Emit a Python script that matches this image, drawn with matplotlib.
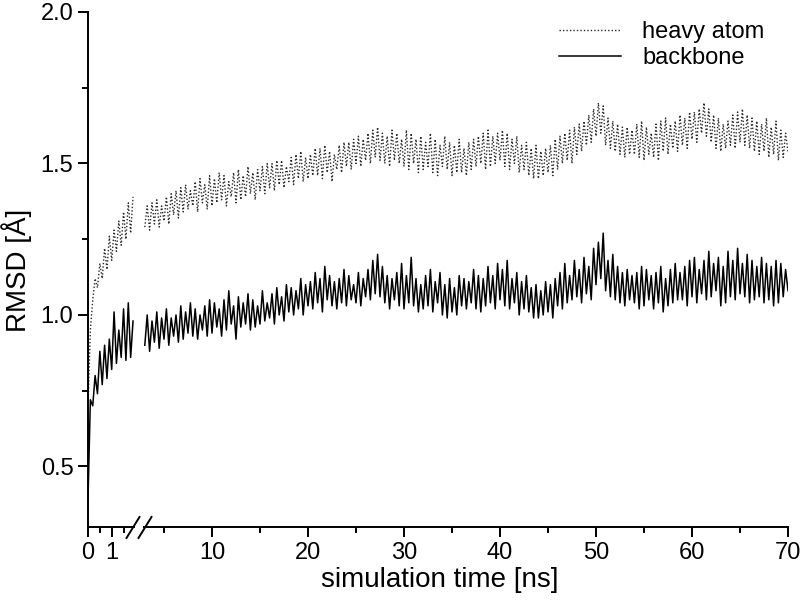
import numpy as np
import matplotlib
matplotlib.use('Agg')
import matplotlib.pyplot as plt
from matplotlib.ticker import MultipleLocator, FixedLocator

plt.rcParams['font.family'] = ['Liberation Sans', 'DejaVu Sans']

# early part of the run (0 - 1.9 ns, every 0.1 ns)
t_early = [0.0, 0.1, 0.2, 0.3, 0.4, 0.5, 0.6, 0.7, 0.8, 0.9,
           1.0, 1.1, 1.2, 1.3, 1.4, 1.5, 1.6, 1.7, 1.8, 1.9]
heavy_early = [0.70, 0.95, 1.05, 1.12, 1.09, 1.17, 1.12, 1.22, 1.15, 1.26,
               1.18, 1.28, 1.21, 1.31, 1.23, 1.34, 1.25, 1.37, 1.27, 1.39]
backbone_early = [0.39, 0.72, 0.70, 0.80, 0.74, 0.88, 0.77, 0.90, 0.79, 0.92,
                  0.82, 1.01, 0.84, 0.95, 0.86, 1.02, 0.85, 1.04, 0.86, 0.98]

# rest of the run (3 - 70 ns, every 0.25 ns), one row per ns
heavy_late = [
    1.29, 1.36, 1.28, 1.37,  1.30, 1.38, 1.29, 1.36,  1.31, 1.39, 1.30, 1.40,
    1.33, 1.41, 1.32, 1.42,  1.34, 1.43, 1.35, 1.41,  1.36, 1.44, 1.34, 1.45,
    1.37, 1.43, 1.35, 1.46,  1.36, 1.45, 1.37, 1.47,  1.38, 1.46, 1.36, 1.44,
    1.39, 1.47, 1.37, 1.48,  1.38, 1.46, 1.39, 1.49,  1.40, 1.47, 1.38, 1.48,
    1.41, 1.49, 1.40, 1.50,  1.42, 1.50, 1.41, 1.51,  1.43, 1.51, 1.42, 1.49,
    1.44, 1.52, 1.43, 1.53,  1.45, 1.54, 1.44, 1.52,  1.45, 1.53, 1.46, 1.55,
    1.46, 1.55, 1.45, 1.56,  1.47, 1.54, 1.44, 1.53,  1.48, 1.56, 1.47, 1.57,
    1.49, 1.57, 1.48, 1.58,  1.50, 1.59, 1.49, 1.58,  1.51, 1.60, 1.50, 1.61,
    1.52, 1.62, 1.51, 1.60,  1.50, 1.59, 1.49, 1.61,  1.51, 1.60, 1.50, 1.58,
    1.49, 1.61, 1.48, 1.60,  1.50, 1.58, 1.47, 1.59,  1.48, 1.57, 1.49, 1.60,
    1.47, 1.58, 1.46, 1.56,  1.49, 1.59, 1.48, 1.57,  1.46, 1.56, 1.47, 1.58,
    1.47, 1.55, 1.46, 1.57,  1.48, 1.58, 1.49, 1.59,  1.50, 1.60, 1.48, 1.61,
    1.49, 1.59, 1.50, 1.60,  1.51, 1.61, 1.49, 1.60,  1.48, 1.58, 1.50, 1.59,
    1.47, 1.56, 1.48, 1.57,  1.46, 1.55, 1.45, 1.56,  1.45, 1.54, 1.46, 1.55,
    1.47, 1.56, 1.46, 1.58,  1.48, 1.59, 1.50, 1.60,  1.51, 1.61, 1.50, 1.62,
    1.53, 1.63, 1.54, 1.64,  1.56, 1.66, 1.57, 1.68,  1.59, 1.70, 1.60, 1.69,
    1.56, 1.65, 1.55, 1.64,  1.54, 1.63, 1.53, 1.62,  1.52, 1.62, 1.53, 1.61,
    1.53, 1.63, 1.52, 1.64,  1.51, 1.62, 1.53, 1.60,  1.52, 1.63, 1.51, 1.64,
    1.54, 1.65, 1.53, 1.63,  1.55, 1.64, 1.54, 1.66,  1.56, 1.65, 1.55, 1.67,
    1.58, 1.67, 1.57, 1.68,  1.60, 1.70, 1.59, 1.68,  1.57, 1.66, 1.55, 1.65,
    1.54, 1.63, 1.55, 1.64,  1.56, 1.66, 1.55, 1.67,  1.57, 1.68, 1.56, 1.66,
    1.55, 1.65, 1.54, 1.64,  1.53, 1.63, 1.54, 1.65,  1.52, 1.62, 1.53, 1.64,
    1.51, 1.61, 1.52, 1.60,  1.54]
backbone_late = [
    0.90, 1.00, 0.88, 0.98,  0.91, 1.01, 0.89, 0.99,  0.92, 1.02, 0.90, 0.99,
    0.93, 1.00, 0.91, 1.03,  0.92, 1.01, 0.94, 1.04,  0.93, 1.02, 0.92, 1.00,
    0.95, 1.03, 0.93, 1.05,  0.94, 1.04, 0.96, 1.02,  0.93, 1.05, 0.95, 1.08,
    0.97, 1.03, 0.92, 1.06,  0.96, 1.04, 0.97, 1.07,  0.95, 1.05, 0.96, 1.03,
    0.97, 1.08, 0.98, 1.04,  0.99, 1.07, 0.97, 1.09,  1.00, 1.06, 0.98, 1.10,
    1.01, 1.09, 1.00, 1.08,  1.02, 1.12, 1.00, 1.10,  1.03, 1.11, 1.02, 1.14,
    1.04, 1.12, 1.01, 1.16,  1.05, 1.13, 1.03, 1.11,  1.02, 1.12, 1.04, 1.15,
    1.03, 1.13, 1.05, 1.10,  1.04, 1.14, 1.03, 1.12,  1.06, 1.15, 1.05, 1.18,
    1.07, 1.20, 1.06, 1.16,  1.04, 1.13, 1.02, 1.12,  1.05, 1.14, 1.03, 1.17,
    1.02, 1.13, 1.04, 1.19,  1.03, 1.12, 1.01, 1.10,  1.02, 1.13, 1.03, 1.15,
    1.01, 1.11, 1.04, 1.14,  1.00, 1.10, 0.99, 1.12,  1.01, 1.09, 1.00, 1.13,
    1.03, 1.12, 1.02, 1.11,  1.04, 1.15, 1.02, 1.13,  1.01, 1.12, 1.03, 1.16,
    1.04, 1.13, 1.02, 1.17,  1.05, 1.15, 1.03, 1.18,  1.02, 1.12, 1.04, 1.14,
    1.00, 1.11, 1.02, 1.13,  1.01, 1.09, 0.99, 1.10,  0.99, 1.08, 1.00, 1.11,
    1.01, 1.10, 0.99, 1.12,  1.03, 1.14, 1.02, 1.17,  1.04, 1.13, 1.05, 1.18,
    1.06, 1.15, 1.04, 1.19,  1.07, 1.16, 1.05, 1.22,  1.10, 1.24, 1.12, 1.27,
    1.08, 1.18, 1.06, 1.20,  1.05, 1.16, 1.04, 1.14,  1.03, 1.15, 1.05, 1.13,
    1.04, 1.14, 1.02, 1.16,  1.03, 1.15, 1.05, 1.13,  1.02, 1.14, 1.04, 1.16,
    1.01, 1.12, 1.03, 1.15,  1.04, 1.17, 1.05, 1.14,  1.05, 1.16, 1.03, 1.18,
    1.06, 1.19, 1.04, 1.15,  1.07, 1.18, 1.05, 1.21,  1.06, 1.17, 1.08, 1.19,
    1.03, 1.16, 1.04, 1.21,  1.06, 1.18, 1.05, 1.22,  1.07, 1.17, 1.06, 1.20,
    1.04, 1.18, 1.05, 1.16,  1.06, 1.19, 1.04, 1.17,  1.05, 1.16, 1.03, 1.18,
    1.04, 1.17, 1.06, 1.15,  1.08]
t_late = 3.0 + 0.25 * np.arange(len(heavy_late))

fs = 17
lw_axis = 1.4

fig = plt.figure(figsize=(8, 6.14), dpi=100)
bottom = 87 / 614
height = 515 / 614
ax0 = fig.add_axes([88 / 800, bottom, 46 / 800, height])
ax1 = fig.add_axes([144 / 800, bottom, 644 / 800, height])

dotted = dict(color='#2a2a2a', lw=1.0, linestyle=(0, (1, 1.5)))
solid = dict(color='black', lw=1.1)

ax0.plot(t_early, heavy_early, **dotted)
ax0.plot(t_early, backbone_early, **solid)
ax1.plot(t_late, heavy_late, label='heavy atom', **dotted)
ax1.plot(t_late, backbone_late, label='backbone', **solid)

for ax in (ax0, ax1):
    ax.set_ylim(0.3, 2.0)
    ax.spines['top'].set_visible(False)
    ax.spines['right'].set_visible(False)
    for sp in ax.spines.values():
        sp.set_linewidth(lw_axis)
    ax.tick_params(which='major', direction='out', length=7, width=lw_axis,
                   labelsize=fs)
    ax.tick_params(which='minor', direction='out', length=4, width=lw_axis)

ax0.set_xlim(0, 46 / 23.7)
ax0.xaxis.set_major_locator(FixedLocator([0, 1]))
ax0.xaxis.set_minor_locator(FixedLocator([0.5, 1.5]))
ax0.yaxis.set_minor_locator(MultipleLocator(0.25))
ax0.set_yticks([0.5, 1.0, 1.5, 2.0])
ax0.set_yticklabels(['0.5', '1.0', '1.5', '2.0'])

ax1.set_xlim(10 - 68 / 9.6, 70)
ax1.xaxis.set_major_locator(MultipleLocator(10))
ax1.xaxis.set_minor_locator(MultipleLocator(5))
ax1.spines['left'].set_visible(False)
ax1.tick_params(axis='y', which='both', left=False, labelleft=False)

fig.text(440 / 800, (614 - 580) / 614, 'simulation time [ns]', fontsize=20,
         ha='center', va='center')
fig.text(17 / 800, (614 - 270) / 614, 'RMSD [Å]', fontsize=20,
         rotation=90, ha='center', va='center')

# break marks on the time axis
kw = dict(color='black', lw=lw_axis, clip_on=False, transform=fig.transFigure)
for xc in (133, 145):
    fig.add_artist(plt.Line2D([(xc - 6.5) / 800, (xc + 6.5) / 800],
                              [(614 - 538) / 614, (614 - 517) / 614], **kw))

leg = ax1.legend(loc='upper right', frameon=False, fontsize=17,
                 handlelength=2.6, handletextpad=0.9, labelspacing=0.15,
                 borderaxespad=0, bbox_to_anchor=(0.978, 1.0))

fig.savefig('out.png', dpi=100)
